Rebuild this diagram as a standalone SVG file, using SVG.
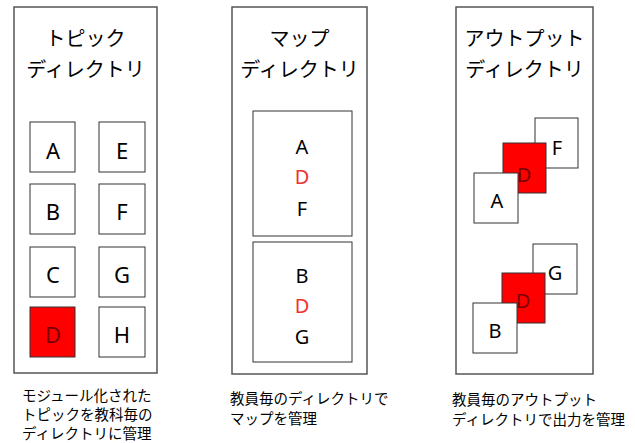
<svg xmlns="http://www.w3.org/2000/svg" width="635" height="443" viewBox="0 0 635 443">
<style>
.panel{fill:#fff;stroke:#555;stroke-width:1.5}
.box{fill:#fff;stroke:#333;stroke-width:1}
.red{fill:#ff0000;stroke:#333;stroke-width:1}
.title{font-family:"Noto Sans CJK JP",sans-serif;font-size:20px;fill:#000;text-anchor:middle}
.cap{font-family:"Noto Sans CJK JP",sans-serif;font-size:14.5px;fill:#000}
.lt{font-family:"Noto Sans","Noto Sans CJK JP",sans-serif;font-size:22px;fill:#000;text-anchor:middle}
.lm{font-family:"Noto Sans","Noto Sans CJK JP",sans-serif;font-size:20px;fill:#000;text-anchor:middle}
.dk{fill:#7a0000}
.rd{fill:#ee3333}
</style>
<rect width="635" height="443" fill="#fff"/>
<g id="topic-dir">
<rect class="panel" x="14" y="7" width="143" height="366"/>
<text class="title" x="85.5" y="46">トピック</text>
<text class="title" x="85.5" y="77">ディレクトリ</text>
</g>
<g id="topic-A"><rect class="box" x="30" y="122" width="45" height="50"/><text class="lt" x="53" y="159">A</text></g>
<g id="topic-E"><rect class="box" x="99" y="122" width="46" height="50"/><text class="lt" x="122" y="159">E</text></g>
<g id="topic-B"><rect class="box" x="30" y="184" width="45" height="50"/><text class="lt" x="53" y="220">B</text></g>
<g id="topic-F"><rect class="box" x="99" y="184" width="46" height="50"/><text class="lt" x="122" y="220">F</text></g>
<g id="topic-C"><rect class="box" x="30" y="247" width="45" height="50"/><text class="lt" x="53" y="283">C</text></g>
<g id="topic-G"><rect class="box" x="99" y="247" width="46" height="50"/><text class="lt" x="122" y="283">G</text></g>
<g id="topic-D"><rect class="red" x="30" y="307" width="45" height="50"/><text class="lt dk" x="53" y="343">D</text></g>
<g id="topic-H"><rect class="box" x="99" y="307" width="46" height="50"/><text class="lt" x="122" y="343">H</text></g>
<g id="topic-caption">
<text class="cap" x="22" y="401">モジュール化された</text>
<text class="cap" x="22" y="420">トピックを教科毎の</text>
<text class="cap" x="22" y="439">ディレクトリに管理</text>
</g>

<g id="map-dir">
<rect class="panel" x="232" y="7" width="135" height="367"/>
<text class="title" x="299.5" y="46">マップ</text>
<text class="title" x="299.5" y="77">ディレクトリ</text>
</g>
<g id="map-1">
<rect class="box" x="253" y="111" width="99" height="125"/>
<text class="lm" x="302" y="154">A</text>
<text class="lm rd" x="302" y="184">D</text>
<text class="lm" x="302" y="216">F</text>
</g>
<g id="map-2">
<rect class="box" x="253" y="242" width="99" height="120"/>
<text class="lm" x="302" y="283">B</text>
<text class="lm rd" x="302" y="313">D</text>
<text class="lm" x="302" y="344">G</text>
</g>
<g id="map-caption">
<text class="cap" x="230" y="404">教員毎のディレクトリで</text>
<text class="cap" x="230" y="424">マップを管理</text>
</g>

<g id="output-dir">
<rect class="panel" x="456" y="7" width="137" height="367"/>
<text class="title" x="524.5" y="46">アウトプット</text>
<text class="title" x="524.5" y="77">ディレクトリ</text>
</g>
<g id="out-1">
<rect class="box" x="535" y="118" width="43" height="50"/><text class="lm" x="557" y="155">F</text>
<rect class="red" x="503" y="143" width="43" height="50"/><text class="lm dk" x="524" y="182">D</text>
<rect class="box" x="474" y="173" width="44" height="50"/><text class="lm" x="497" y="208">A</text>
</g>
<g id="out-2">
<rect class="box" x="533" y="244" width="44" height="50"/><text class="lm" x="555" y="280">G</text>
<rect class="red" x="502" y="273" width="43" height="50"/><text class="lm dk" x="523" y="308">D</text>
<rect class="box" x="473" y="303" width="44" height="50"/><text class="lm" x="495" y="338">B</text>
</g>
<g id="output-caption">
<text class="cap" x="452" y="405">教員毎のアウトプット</text>
<text class="cap" x="452" y="425">ディレクトリで出力を管理</text>
</g>
<g id="connectors"/>
</svg>
